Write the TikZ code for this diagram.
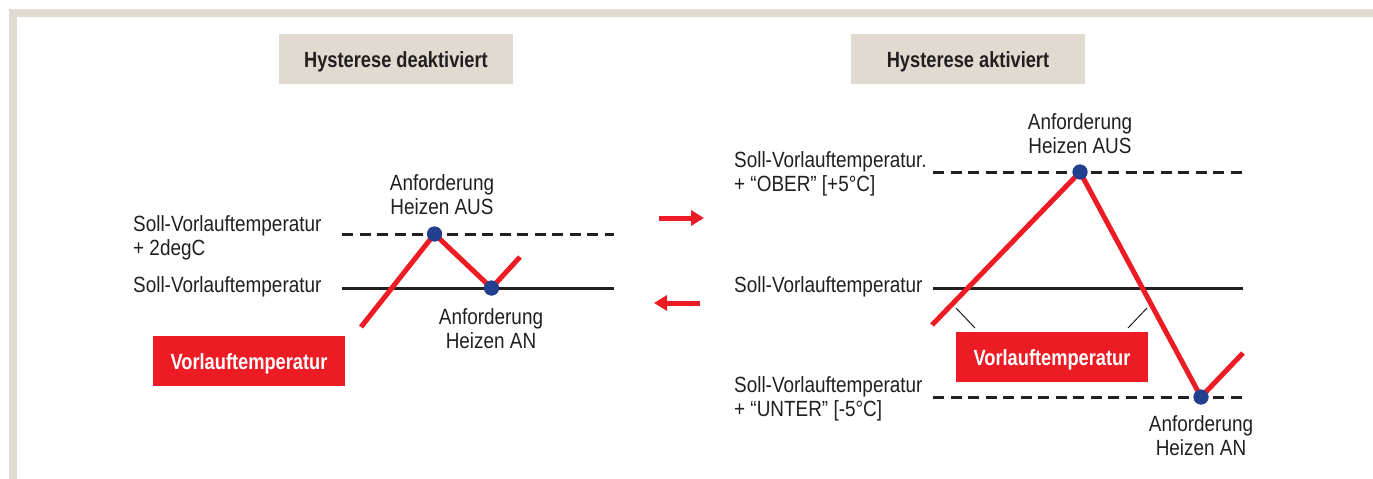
\documentclass[tikz,border=0pt]{standalone}
\usepackage{fontspec}
\setmainfont{Liberation Sans}[FakeStretch=0.86]
\newfontfamily\boldcond{Liberation Sans}[FakeStretch=0.83]
\usetikzlibrary{arrows.meta}
\definecolor{framebg}{HTML}{E0DAD0}
\definecolor{hred}{HTML}{ED1C24}
\definecolor{hblue}{HTML}{22408F}
\definecolor{ink}{HTML}{231F20}
\begin{document}
\begin{tikzpicture}[x=1pt,y=-1pt,
  lbl/.style={font=\fontsize{22}{24}\selectfont, text=ink, inner sep=0pt, align=left, anchor=base west},
  clbl/.style={lbl, align=center, anchor=base},
  titlebox/.style={fill=framebg, minimum width=234pt, minimum height=50pt, inner sep=0pt,
    font=\boldcond\bfseries\fontsize{22}{24}\selectfont, text=ink, text height=16pt, text depth=0pt},
  redbox/.style={fill=hred, minimum width=192pt, minimum height=50pt, inner sep=0pt,
    font=\boldcond\bfseries\fontsize{22}{24}\selectfont, text=white, text height=16pt, text depth=0pt},
  dot/.style={circle, fill=hblue, minimum size=15pt, inner sep=0pt},
  refline/.style={line width=3pt, ink},
  refdash/.style={refline, dash pattern=on 11pt off 6.5pt},
  curve/.style={line width=5pt, hred, line join=miter},
  bigarrow/.style={line width=5pt, hred, -{Triangle[length=13pt,width=15pt]}},
  pointer/.style={line width=1pt, ink}]
\useasboundingbox (0,0) rectangle (1373,479);
% frame
\fill[framebg] (9,9) rectangle (1373,17);
\fill[framebg] (9,9) rectangle (16.5,479);

% ---------- left panel ----------
\node[titlebox] (t1) at (396,59) {Hysterese deaktiviert};
\coordinate (d1a) at (342,234); \coordinate (d1b) at (614,234);
\coordinate (s1a) at (342,288); \coordinate (s1b) at (614,288);
\draw[refdash] (d1a) -- (d1b);
\draw[refline] (s1a) -- (s1b);
\node[lbl] (l1) at (133,255) {Soll-Vorlauftemperatur\\+ 2degC};
\node[lbl] (l2) at (133,292) {Soll-Vorlauftemperatur};
\node[dot] (aus1) at (434.5,234) {};
\node[dot] (an1) at (491.5,288) {};
\coordinate (c1s) at (361,327); \coordinate (c1e) at (520,257);
\draw[curve] (c1s) -- (aus1.center) -- (an1.center) -- (c1e);
\node[dot] at (aus1) {};
\node[dot] at (an1) {};
\node[clbl] (a1) at (442,214) {Anforderung\\Heizen AUS};
\node[clbl] (b1) at (491,348) {Anforderung\\Heizen AN};
\node[redbox] (v1) at (249,361) {Vorlauftemperatur};

% ---------- arrows ----------
\coordinate (ar1s) at (659,218); \coordinate (ar1e) at (704,218);
\coordinate (ar2s) at (700,303); \coordinate (ar2e) at (654,303);
\draw[bigarrow] (ar1s) -- (ar1e);
\draw[bigarrow] (ar2s) -- (ar2e);

% ---------- right panel ----------
\node[titlebox] (t2) at (968,59) {Hysterese aktiviert};
\coordinate (d2a) at (933,172); \coordinate (d2b) at (1243,172);
\coordinate (s2a) at (933,288); \coordinate (s2b) at (1243,288);
\coordinate (u2a) at (933,397); \coordinate (u2b) at (1243,397);
\draw[refdash] (d2a) -- (d2b);
\draw[refline] (s2a) -- (s2b);
\draw[refdash] (u2a) -- (u2b);
\node[lbl] (r1) at (734,191) {Soll-Vorlauftemperatur.\\+ “OBER” [+5°C]};
\node[lbl] (r2) at (734,292) {Soll-Vorlauftemperatur};
\node[lbl] (r3) at (734,416) {Soll-Vorlauftemperatur\\+ “UNTER” [-5°C]};
\node[dot] (aus2) at (1080,172) {};
\node[dot] (an2) at (1201,397) {};
\coordinate (c2s) at (932,325); \coordinate (c2e) at (1243,353);
\draw[curve] (c2s) -- (aus2.center) -- (an2.center) -- (c2e);
\node[dot] at (aus2) {};
\node[dot] at (an2) {};
\node[clbl] (a2) at (1080,153) {Anforderung\\Heizen AUS};
\node[clbl] (b2) at (1201,455) {Anforderung\\Heizen AN};
\node[redbox] (v2) at (1052,357) {Vorlauftemperatur};
\coordinate (p1a) at (956,308); \coordinate (p1b) at (975,328);
\coordinate (p2a) at (1147,308); \coordinate (p2b) at (1128,328);
\draw[pointer] (p1a) -- (p1b);
\draw[pointer] (p2a) -- (p2b);
\end{tikzpicture}
\end{document}
